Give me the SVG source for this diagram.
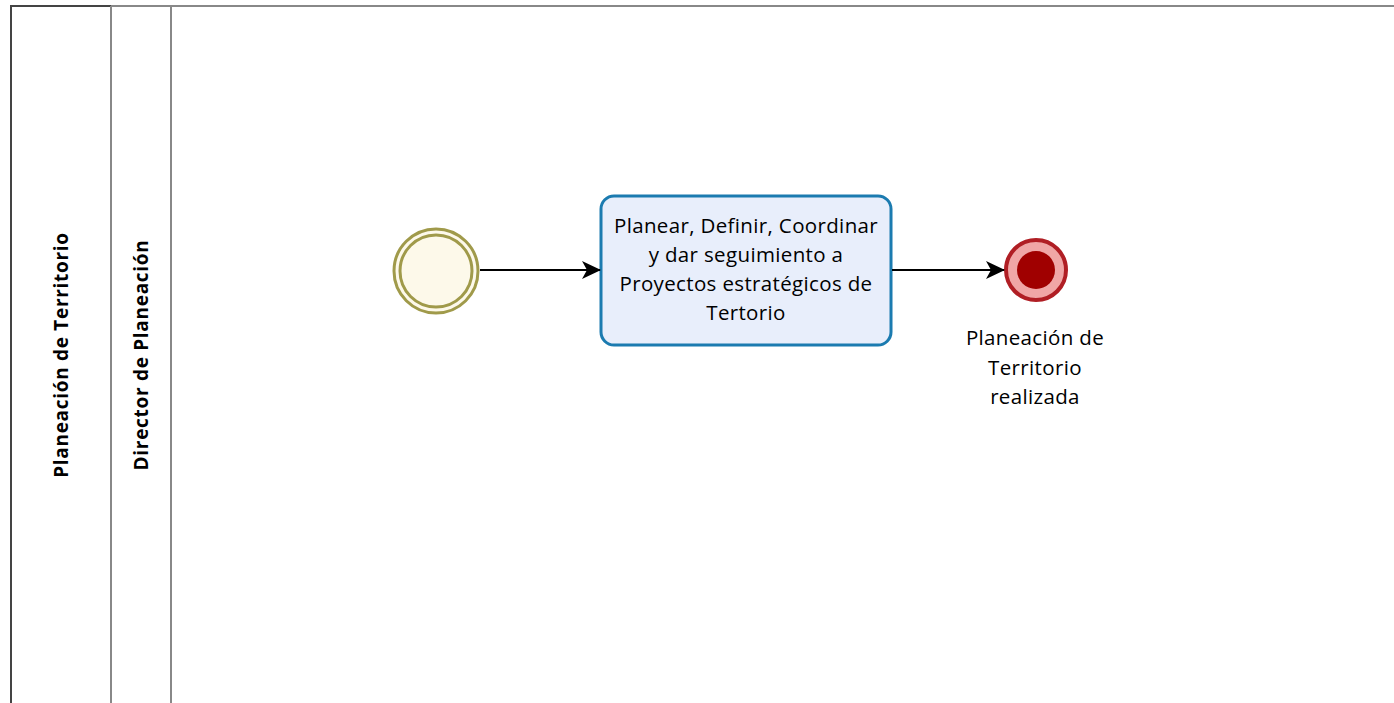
<svg xmlns="http://www.w3.org/2000/svg" width="1394" height="703" viewBox="0 0 1394 703">
<style>
.lane{fill:none;stroke:#888;stroke-width:2}
.hdr{font-family:"Open Sans","DejaVu Sans",sans-serif;font-weight:bold;font-size:19px;letter-spacing:0.7px;fill:#000;text-anchor:middle}
.lbl{font-family:"Open Sans","DejaVu Sans",sans-serif;font-size:20.5px;letter-spacing:0.35px;fill:#000;text-anchor:middle}
.flow{fill:none;stroke:#000;stroke-width:2}
</style>
<defs>
<marker id="arr" markerWidth="20" markerHeight="20" refX="19" refY="10" orient="auto" markerUnits="userSpaceOnUse"><path d="M1,1 L20,10 L1,19 L6,10 Z" fill="#000"/></marker>
</defs>
<rect width="1394" height="703" fill="#fff"/>
<g id="pool">
<line x1="11" y1="6" x2="1394" y2="6" stroke="#888" stroke-width="2"/>
<line x1="11" y1="6" x2="111" y2="6" stroke="#444" stroke-width="2"/>
<line x1="11" y1="5" x2="11" y2="703" stroke="#444" stroke-width="2"/>
<line x1="111" y1="6" x2="111" y2="703" class="lane"/>
<line x1="171" y1="6" x2="171" y2="703" class="lane"/>
<text class="hdr" transform="translate(68,355) rotate(-90)">Planeación de Territorio</text>
</g>
<g id="lane">
<text class="hdr" transform="translate(148,355) rotate(-90)">Director de Planeación</text>
</g>
<g id="start">
<circle cx="436" cy="271" r="42" fill="#FDF9EA" stroke="#A09A4A" stroke-width="3"/>
<circle cx="436" cy="271" r="36" fill="#FDF9EA" stroke="#A09A4A" stroke-width="3"/>
</g>
<g id="task">
<rect x="601" y="196" width="290" height="149" rx="13" fill="#E8EEFB" stroke="#1B7BB0" stroke-width="3"/>
<text class="lbl"><tspan x="746" y="233">Planear, Definir, Coordinar</tspan><tspan x="746" y="262">y dar seguimiento a</tspan><tspan x="746" y="291">Proyectos estratégicos de</tspan><tspan x="746" y="320">Tertorio</tspan></text>
</g>
<g id="end">
<circle cx="1036" cy="270" r="30" fill="#F0A6A6" stroke="#B01E24" stroke-width="4"/>
<circle cx="1036" cy="270" r="19" fill="#A00000"/>
<text class="lbl"><tspan x="1035" y="345">Planeación de</tspan><tspan x="1035" y="375">Territorio</tspan><tspan x="1035" y="404">realizada</tspan></text>
</g>
<g id="connectors">
<line x1="480" y1="270" x2="600" y2="270" class="flow" marker-end="url(#arr)"/>
<line x1="892" y1="270" x2="1004" y2="270" class="flow" marker-end="url(#arr)"/>
</g>
</svg>
